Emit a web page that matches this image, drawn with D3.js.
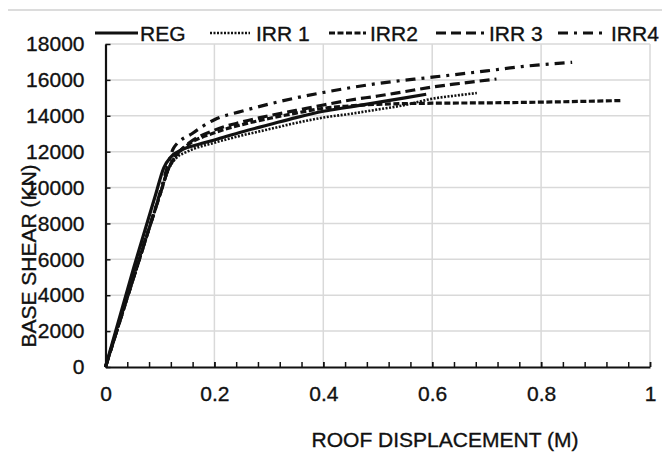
<!DOCTYPE html>
<html>
<head>
<meta charset="utf-8">
<script src="https://cdn.jsdelivr.net/npm/d3@7"></script>
<style>
  body { margin: 0; background: #fff; }
  text { font-family: "Liberation Sans", Arial, sans-serif; fill: #111; stroke: #111; stroke-width: 0.35px; }
</style>
</head>
<body>
<svg id="chart"></svg>
<script>
// pushover curves: [roof displacement (m), base shear (kN)]
const reg  = [[0,0],[0.052,5550],[0.092,9600],[0.107,11100],[0.12,11700],[0.14,12100],[0.17,12400],[0.2,12650],[0.25,13100],[0.3,13500],[0.35,13900],[0.4,14250],[0.45,14500],[0.5,14750],[0.55,15000],[0.589,15200]];
const irr1 = [[0,0],[0.058,5550],[0.1,9600],[0.117,11100],[0.13,11650],[0.15,12000],[0.2,12500],[0.25,12900],[0.3,13250],[0.35,13600],[0.4,13900],[0.45,14110],[0.5,14350],[0.55,14600],[0.6,14950],[0.65,15150],[0.682,15270]];
const irr2 = [[0,0],[0.057,5500],[0.1,9600],[0.115,11000],[0.13,11800],[0.15,12350],[0.2,13050],[0.25,13500],[0.3,13850],[0.35,14150],[0.4,14420],[0.45,14550],[0.5,14640],[0.6,14700],[0.7,14720],[0.8,14760],[0.947,14850]];
const irr3 = [[0,0],[0.057,5500],[0.1,9600],[0.115,11000],[0.13,11800],[0.15,12400],[0.2,13200],[0.25,13650],[0.3,14000],[0.35,14300],[0.4,14600],[0.45,14880],[0.5,15100],[0.55,15350],[0.6,15600],[0.65,15800],[0.718,16050]];
const irr4 = [[0,0],[0.056,5500],[0.1,9700],[0.115,11300],[0.125,12200],[0.16,13030],[0.2,13780],[0.25,14250],[0.3,14650],[0.35,15000],[0.4,15300],[0.5,15800],[0.6,16150],[0.7,16500],[0.764,16740],[0.857,16980]];

const seriesNames = ["REG", "IRR 1", "IRR2", "IRR 3", "IRR4"];
const seriesData = [reg, irr1, irr2, irr3, irr4];
const xTicks = [0, 0.2, 0.4, 0.6, 0.8, 1];
const yTicks = [0, 2000, 4000, 6000, 8000, 10000, 12000, 14000, 16000, 18000];

// line styles per series
const dashes = [null, "2,1.5", "6,2.5", "10,5", "10,6,3,6"];
const widths = [3.2, 2.6, 3.2, 3.2, 3.2];
// legend line start/end and label x
const legendPos = [[95, 138, 140], [210, 250, 256], [329, 366, 370], [436, 484, 489], [558, 605, 611]];

const width = 662, height = 472;
const svg = d3.select("#chart").attr("width", width).attr("height", height);

const x = d3.scaleLinear().domain([0, 1]).range([105.5, 650]);
const y = d3.scaleLinear().domain([0, 18000]).range([367, 44]);

// thin frame line at the top of the figure
svg.append("line")
    .attr("x1", 8).attr("x2", 662).attr("y1", 10).attr("y2", 10)
    .attr("stroke", "#d0d0d0").attr("stroke-width", 1.5);

// gridlines
const grid = svg.append("g").attr("stroke", "#d9d9d9").attr("stroke-width", 1.5);
grid.selectAll(".gy").data(yTicks.slice(1)).join("line")
    .attr("x1", x(0)).attr("x2", x(1))
    .attr("y1", d => y(d)).attr("y2", d => y(d));
grid.selectAll(".gx").data(xTicks.slice(1)).join("line")
    .attr("x1", d => x(d)).attr("x2", d => x(d))
    .attr("y1", y(0)).attr("y2", y(18000));

// minor x ticks every 0.04
const minorTicks = d3.range(0, 1.0001, 0.04);
svg.append("g")
    .attr("transform", `translate(0,${y(0)})`)
    .call(d3.axisBottom(x).tickValues(minorTicks).tickSize(-5).tickSizeOuter(0).tickFormat(""))
    .call(g => g.select(".domain").remove())
    .call(g => g.selectAll("line").attr("stroke", "#111").attr("stroke-width", 1.5));

const xAxisG = svg.append("g")
    .attr("transform", `translate(0,${y(0)})`)
    .call(d3.axisBottom(x).tickValues(xTicks).tickSize(-5).tickSizeOuter(0).tickPadding(19)
      .tickFormat(d => d3.format("")(d)));
xAxisG.select(".domain").attr("stroke", "#111").attr("stroke-width", 2.2);
xAxisG.selectAll("line").attr("stroke", "#111").attr("stroke-width", 1.5);
xAxisG.selectAll("text").style("font-size", "21px").attr("fill", "#111");

const yAxisG = svg.append("g")
    .attr("transform", `translate(${x(0)},0)`)
    .call(d3.axisLeft(y).tickValues(yTicks).tickSize(-5).tickSizeOuter(0).tickPadding(21)
      .tickFormat(d3.format("d")));
yAxisG.select(".domain").attr("stroke", "#111").attr("stroke-width", 2.2);
yAxisG.selectAll("line").attr("stroke", "#111").attr("stroke-width", 1.5);
yAxisG.selectAll("text").style("font-size", "21px").attr("fill", "#111");

// curves
const line = d3.line().x(d => x(d[0])).y(d => y(d[1])).curve(d3.curveMonotoneX);
svg.append("g").selectAll("path").data(seriesData).join("path")
    .attr("d", line)
    .attr("fill", "none")
    .attr("stroke", "#111")
    .attr("stroke-width", (d, i) => widths[i])
    .attr("stroke-dasharray", (d, i) => dashes[i]);

// legend
const legend = svg.append("g");
seriesNames.forEach((name, i) => {
  const [x1, x2, tx] = legendPos[i];
  legend.append("line")
      .attr("x1", x1).attr("x2", x2).attr("y1", 33).attr("y2", 33)
      .attr("stroke", "#111").attr("stroke-width", widths[i])
      .attr("stroke-dasharray", dashes[i]);
  legend.append("text")
      .attr("x", tx).attr("y", 41)
      .style("font-size", "21px")
      .text(name);
});

// axis titles
svg.append("text")
    .attr("x", 445).attr("y", 447)
    .attr("text-anchor", "middle")
    .style("font-size", "21px")
    .text("ROOF DISPLACEMENT (M)");

svg.append("text")
    .attr("transform", "translate(36,256) rotate(-90)")
    .attr("text-anchor", "middle")
    .style("font-size", "21px")
    .text("BASE SHEAR (KN)");
</script>
</body>
</html>
